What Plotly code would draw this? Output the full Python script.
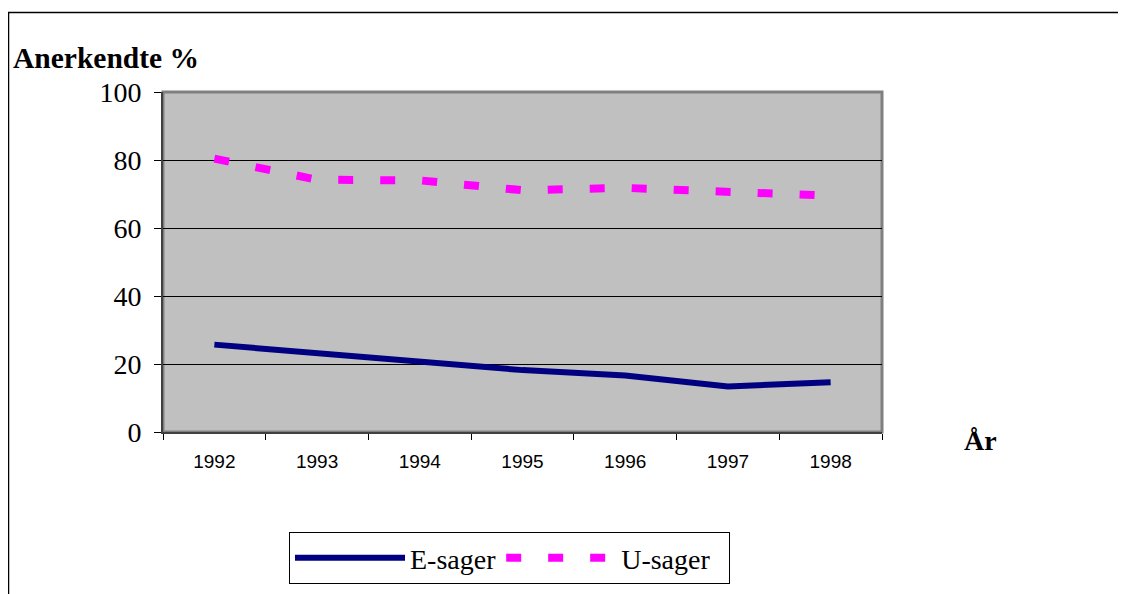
import plotly.graph_objects as go

years = ["1992", "1993", "1994", "1995", "1996", "1997", "1998"]
e_sager = [25.7, 23.2, 21.0, 18.2, 16.6, 13.4, 14.6]
u_sager = [80.4, 74.2, 74.0, 71.1, 71.8, 70.7, 69.5]
y_ticks = [0, 20, 40, 60, 80, 100]

W, H = 1126, 594
OFF = 8  # page body margin
L, R, T, B = 163 - OFF, 882 - OFF, 92 - OFF, 432 - OFF
pw, ph = R - L, B - T

def px_x(x):
    return (x - OFF - L) / pw

def px_y(y):
    return (B - (y - OFF)) / ph

serif = "Liberation Serif, Times New Roman, serif"
sans = "Liberation Sans, Arial, sans-serif"

fig = go.Figure()
fig.add_trace(go.Scatter(x=years, y=e_sager, mode="lines", name="E-sager",
                         line=dict(color="#000080", width=6)))
fig.add_trace(go.Scatter(x=years, y=u_sager, mode="lines", name="U-sager\u00a0\u00a0",
                         line=dict(color="#FF00FF", width=8, dash="15px,27px")))

fig.update_layout(
    width=W, height=H,
    margin=dict(l=L, r=W - R, t=T, b=H - B, pad=0),
    paper_bgcolor="white",
    plot_bgcolor="#C0C0C0",
    showlegend=True,
    legend=dict(orientation="h", x=px_x(289), y=px_y(532), xanchor="left", yanchor="top",
                bgcolor="white", bordercolor="black", borderwidth=1,
                font=dict(family=serif, size=28, color="black"),
                itemwidth=110, tracegroupgap=0),
    xaxis=dict(type="category", range=[-0.5, 6.5], tickson="boundaries",
               ticks="outside", ticklen=6, tickcolor="black", tickwidth=1,
               showgrid=False, showline=True, linecolor="#404040", linewidth=2,
               tickfont=dict(family=sans, size=19, color="black"),
               ticklabelstandoff=11, zeroline=False),
    yaxis=dict(range=[0, 100], tickvals=y_ticks, ticks="outside", ticklen=7,
               tickcolor="black", tickwidth=1, showgrid=True, gridcolor="black",
               gridwidth=1, showline=True, linecolor="#404040", linewidth=2,
               tickfont=dict(family=serif, size=28, color="black"),
               ticklabelstandoff=7, zeroline=False),
    shapes=[
        dict(type="rect", xref="paper", yref="paper", x0=0, x1=1, y0=0, y1=1,
             line=dict(color="#808080", width=3), layer="below"),
        dict(type="line", xref="paper", yref="paper", x0=px_x(8), x1=px_x(1140),
             y0=px_y(12.5), y1=px_y(12.5), line=dict(color="black", width=1.5)),
        dict(type="line", xref="paper", yref="paper", x0=px_x(8.5), x1=px_x(8.5),
             y0=px_y(12), y1=px_y(610), line=dict(color="black", width=1.5)),
    ],
    annotations=[
        dict(text="<b>Anerkendte %</b>", xref="paper", yref="paper",
             x=px_x(11), y=px_y(58), xanchor="left", yanchor="middle", showarrow=False,
             font=dict(family=serif, size=29.5, color="black")),
        dict(text="<b>År</b>", xref="paper", yref="paper",
             x=px_x(962), y=px_y(440), xanchor="left", yanchor="middle", showarrow=False,
             font=dict(family=serif, size=28, color="black")),
    ],
)

fig.write_html("out.html")
